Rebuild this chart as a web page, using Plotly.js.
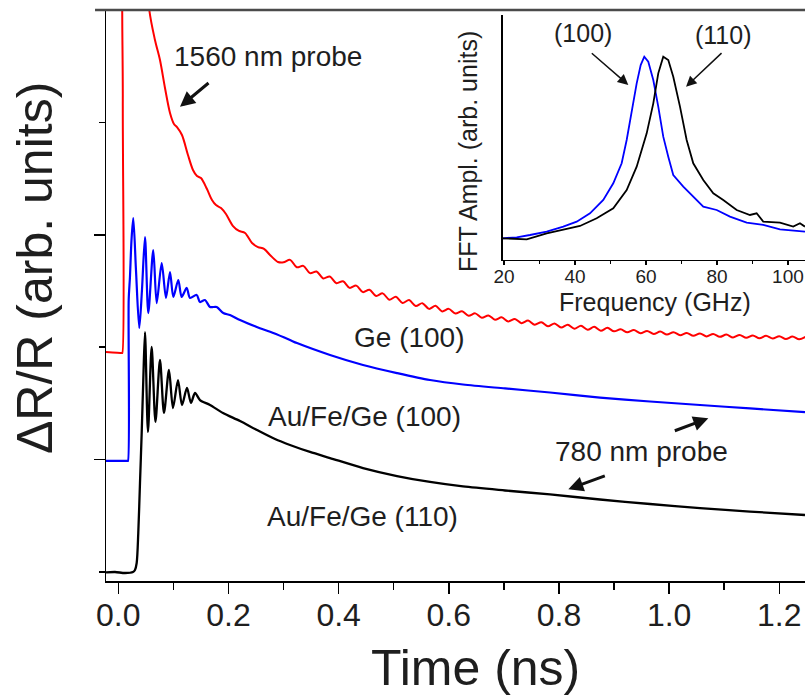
<!DOCTYPE html>
<html>
<head>
<meta charset="utf-8">
<script src="https://cdn.plot.ly/plotly-3.0.1.min.js"></script>
<style>html,body{margin:0;padding:0;background:#fff;}#chart{width:805px;height:698px;}</style>
</head>
<body>
<div id="chart"></div>
<script>
// Main panel: time (ns) vs dR/R (arb. units, offset curves)
const redT = [-0.0223,0.0065,0.0073,0.0082,0.0094,0.0303,0.0485,0.0563,0.0666,0.0757,0.0848,0.0939,0.1011,0.1066,0.1156,0.1265,0.1356,0.1429,0.1501,0.1610,0.1701,0.1774,0.1865,0.1955,0.2083,0.2192,0.2301,0.2428,0.2537,0.2646,0.2773,0.2899,0.3000,
  0.312,0.324,0.336,0.348,0.360,0.372,0.384,0.396,0.408,0.420,0.432,0.444,0.456,0.468,0.480,0.492,0.504,0.516,0.528,0.540,0.552,0.564,0.576,0.588,0.600,0.612,0.624,0.636,0.648,0.660,0.672,0.684,0.696,0.708,0.720,0.732,0.744,0.756,0.768,0.780,0.792,0.804,0.816,0.828,0.840,0.852,0.864,0.876,0.888,0.900,0.912,0.924,0.936,0.948,0.960,0.972,0.984,0.996,1.008,1.020,1.032,1.044,1.056,1.068,1.080,1.092,1.104,1.116,1.128,1.140,1.152,1.164,1.176,1.188,1.200,1.212,1.224,1.236,1.248];
const redV = [1.957,1.948,1.948,4.199,5.623,6.423,5.623,5.000,4.733,4.555,4.306,4.084,3.986,3.959,3.888,3.710,3.577,3.523,3.505,3.407,3.310,3.265,3.238,3.185,3.078,3.034,3.016,2.927,2.891,2.874,2.811,2.758,2.755,
  2.777,2.711,2.724,2.659,2.674,2.612,2.629,2.569,2.587,2.528,2.548,2.490,2.512,2.456,2.479,2.423,2.448,2.394,2.419,2.367,2.392,2.341,2.368,2.318,2.341,2.300,2.320,2.280,2.301,2.262,2.283,2.244,2.266,2.229,2.251,2.214,2.237,2.200,2.223,2.187,2.212,2.175,2.200,2.165,2.190,2.155,2.181,2.146,2.172,2.141,2.159,2.133,2.152,2.125,2.145,2.118,2.139,2.112,2.133,2.107,2.127,2.101,2.122,2.096,2.117,2.092,2.112,2.087,2.109,2.084,2.105,2.080,2.101,2.077,2.098,2.073,2.095,2.070,2.092];

const blueT = [-0.0223,0.0167,0.0176,0.0189,0.0212,0.0240,0.0272,0.0321,0.0381,0.0430,0.0485,0.0545,0.0635,0.0697,0.0788,0.0866,0.0939,0.0999,0.1089,0.1151,0.1242,0.1302,0.1423,0.1483,0.1574,0.1665,0.1786,0.1906,0.2028,0.2210,0.2513,0.2814,0.3117,0.3244,0.3844,0.4443,0.5060,0.5659,0.6258,0.7021,0.7838,0.8745,0.9653,1.0561,1.1468,1.2467];
const blueV = [0.988,0.988,0.988,2.420,2.625,2.954,3.149,2.687,2.171,2.509,2.980,2.304,2.865,2.393,2.749,2.438,2.669,2.447,2.598,2.447,2.527,2.438,2.465,2.402,2.420,2.358,2.358,2.304,2.286,2.242,2.180,2.126,2.064,2.037,1.931,1.842,1.770,1.708,1.668,1.633,1.597,1.552,1.517,1.486,1.455,1.423];

const blackT = [-0.0223,-0.0060,0.0122,0.0267,0.0303,0.0334,0.0363,0.0394,0.0425,0.0454,0.0485,0.0539,0.0606,0.0675,0.0757,0.0830,0.0920,0.0993,0.1084,0.1157,0.1247,0.1320,0.1393,0.1483,0.1665,0.1901,0.2210,0.2518,0.2845,0.3117,0.3480,0.3844,0.4443,0.5060,0.5659,0.6258,0.7021,0.7838,0.8745,0.9653,1.0561,1.1468,1.2467];
const blackV = [-0.004,0.000,-0.009,0.000,0.018,0.080,0.347,0.792,1.237,1.708,2.135,1.246,2.002,1.335,1.886,1.415,1.797,1.459,1.708,1.486,1.637,1.504,1.593,1.530,1.486,1.415,1.343,1.263,1.183,1.130,1.068,1.014,0.925,0.854,0.801,0.761,0.725,0.690,0.645,0.605,0.569,0.538,0.507];

// Inset: FFT amplitude vs frequency (GHz)
const fftBlueF = [19.63,23.58,27.32,32.03,36.70,40.48,44.23,47.97,50.79,53.15,54.56,55.97,57.38,58.51,59.52,60.65,62.06,63.46,64.87,66.28,67.69,70.51,73.32,76.14,79.92,83.66,88.37,93.04,97.75,104.79];
const fftBlueA = [0.0886,0.0927,0.1020,0.1155,0.1359,0.1563,0.1906,0.2449,0.3130,0.3947,0.4898,0.6122,0.7211,0.7959,0.8299,0.8095,0.7347,0.6259,0.5034,0.4218,0.3469,0.2993,0.2585,0.2177,0.2041,0.1768,0.1523,0.1429,0.1253,0.1156];
const fftBlackF = [19.63,26.39,32.03,36.70,41.41,46.11,50.79,54.56,57.38,60.20,62.06,63.46,64.87,66.28,67.69,69.58,71.46,73.32,76.14,78.96,81.77,85.55,89.30,91.18,93.04,97.75,101.49,103.38,104.79];
const fftBlackA = [0.0886,0.0845,0.1090,0.1224,0.1388,0.1702,0.2110,0.2857,0.3810,0.5170,0.6395,0.7619,0.8299,0.8163,0.7483,0.6259,0.4898,0.3946,0.3265,0.2721,0.2449,0.2041,0.1837,0.1905,0.1564,0.1523,0.1361,0.1497,0.1361];

const xTickVals = [0, 0.2, 0.4, 0.6, 0.8, 1.0, 1.2];
const xTickText = ['0.0','0.2','0.4','0.6','0.8','1.0','1.2'];
const fTickVals = [20, 40, 60, 80, 100];
const fTickText = ['20','40','60','80','100'];

const FONT = 'Liberation Sans, Arial, sans-serif';
const TXT = '#1e1e1e';

const traces = [
  {x: redT, y: redV, type: 'scatter', mode: 'lines', line: {color: '#ff0000', width: 2, shape: 'spline', smoothing: 0.9}, xaxis: 'x', yaxis: 'y', hoverinfo: 'skip'},
  {x: blueT, y: blueV, type: 'scatter', mode: 'lines', line: {color: '#0000ff', width: 2.2, shape: 'spline', smoothing: 0.8}, xaxis: 'x', yaxis: 'y', hoverinfo: 'skip'},
  {x: blackT, y: blackV, type: 'scatter', mode: 'lines', line: {color: '#000000', width: 2.3, shape: 'spline', smoothing: 0.8}, xaxis: 'x', yaxis: 'y', hoverinfo: 'skip'},
  {x: fftBlueF, y: fftBlueA, type: 'scatter', mode: 'lines', line: {color: '#0000ff', width: 1.8}, xaxis: 'x2', yaxis: 'y2', hoverinfo: 'skip'},
  {x: fftBlackF, y: fftBlackA, type: 'scatter', mode: 'lines', line: {color: '#000000', width: 1.8}, xaxis: 'x2', yaxis: 'y2', hoverinfo: 'skip'}
];

function txt(text, x, y, size, opts) {
  return Object.assign({text: text, x: x, y: y, xref: 'paper', yref: 'paper', showarrow: false,
    font: {family: FONT, size: size, color: TXT}, xanchor: 'center', yanchor: 'middle'}, opts || {});
}
function arrow(x, y, ax, ay, w, s) {
  return {text: '', x: x, y: y, xref: 'paper', yref: 'paper', ax: ax, ay: ay, showarrow: true,
    arrowhead: 2, arrowsize: s, arrowwidth: w, arrowcolor: '#111', standoff: 0, startstandoff: 0};
}

const layout = {
  width: 805, height: 698,
  margin: {l: 106, r: 0, t: 10, b: 117, pad: 0},
  paper_bgcolor: '#fff', plot_bgcolor: 'rgba(0,0,0,0)',
  showlegend: false,
  font: {family: FONT, color: TXT},
  xaxis: {
    domain: [0, 1], range: [-0.0223, 1.2467], anchor: 'y',
    tickmode: 'array', tickvals: xTickVals, ticktext: xTickText,
    ticks: 'outside', ticklen: 11, tickwidth: 1.5, tickcolor: '#000', ticklabelstandoff: -6,
    minor: {tickmode: 'linear', tick0: 0, dtick: 0.1, ticks: 'outside', ticklen: 7, tickwidth: 1.5, tickcolor: '#000'},
    showline: true, linewidth: 1.5, linecolor: '#000', showgrid: false, zeroline: false,
    tickfont: {family: FONT, size: 32, color: TXT}
  },
  yaxis: {
    domain: [0, 1], range: [-0.08, 5.0], anchor: 'x',
    tickmode: 'array', tickvals: [1, 3], showticklabels: false,
    ticks: 'outside', ticklen: 11, tickwidth: 1.5, tickcolor: '#000',
    minor: {tickmode: 'array', tickvals: [0, 2, 4], ticks: 'outside', ticklen: 6, tickwidth: 1.5, tickcolor: '#000'},
    showline: true, linewidth: 1.5, linecolor: '#000', showgrid: false, zeroline: false
  },
  xaxis2: {
    domain: [0.5675, 1], range: [19.63, 104.8], anchor: 'y2',
    tickmode: 'array', tickvals: fTickVals, ticktext: fTickText,
    ticks: 'outside', ticklen: 4, tickwidth: 1.2, tickcolor: '#000', ticklabelstandoff: -5,
    minor: {tickmode: 'linear', tick0: 0, dtick: 10, ticks: 'outside', ticklen: 3, tickwidth: 1.2, tickcolor: '#000'},
    showline: true, linewidth: 1.5, linecolor: '#000', showgrid: false, zeroline: false,
    tickfont: {family: FONT, size: 19, color: TXT}
  },
  yaxis2: {
    domain: [0.5622, 0.9912], range: [0, 1], anchor: 'x2',
    ticks: '', showticklabels: false,
    showline: true, linewidth: 1.5, linecolor: '#000', showgrid: false, zeroline: false
  },
  shapes: [
    {type: 'line', xref: 'paper', yref: 'paper', x0: -0.0157, x1: 1, y0: 1, y1: 1, line: {color: '#4a4a4a', width: 2.5}}
  ],
  annotations: [
    txt('Time (ns)', 0.5279, -0.1524, 50),
    txt('\u0394R/R (arb. units)', -0.1016, 0.548, 50, {textangle: -90}),
    txt('FFT Ampl. (arb. units)', 0.5179, 0.7513, 25, {textangle: -90}),
    txt('Frequency (GHz)', 0.7854, 0.4886, 25),
    txt('(100)', 0.6828, 0.9592, 25),
    txt('(110)', 0.8831, 0.9562, 25),
    txt('1560 nm probe', 0.0944, 0.9177, 28, {xanchor: 'left'}),
    txt('Ge (100)', 0.4335, 0.4256, 28),
    txt('Au/Fe/Ge (100)', 0.3705, 0.2877, 28),
    txt('Au/Fe/Ge (110)', 0.3670, 0.1126, 28),
    txt('780 nm probe', 0.7664, 0.2264, 28),
    arrow(0.1059, 0.8306, 30, -25, 3, 1.0),
    arrow(0.7472, 0.8687, -38, -33, 1.5, 1.4),
    arrow(0.8298, 0.8657, 37, -35, 1.5, 1.4),
    arrow(0.8617, 0.2849, -35, 13, 3, 1.0),
    arrow(0.6614, 0.1606, 38, -14, 3, 1.0)
  ]
};

Plotly.newPlot('chart', traces, layout, {staticPlot: true, displayModeBar: false});
</script>
</body>
</html>
